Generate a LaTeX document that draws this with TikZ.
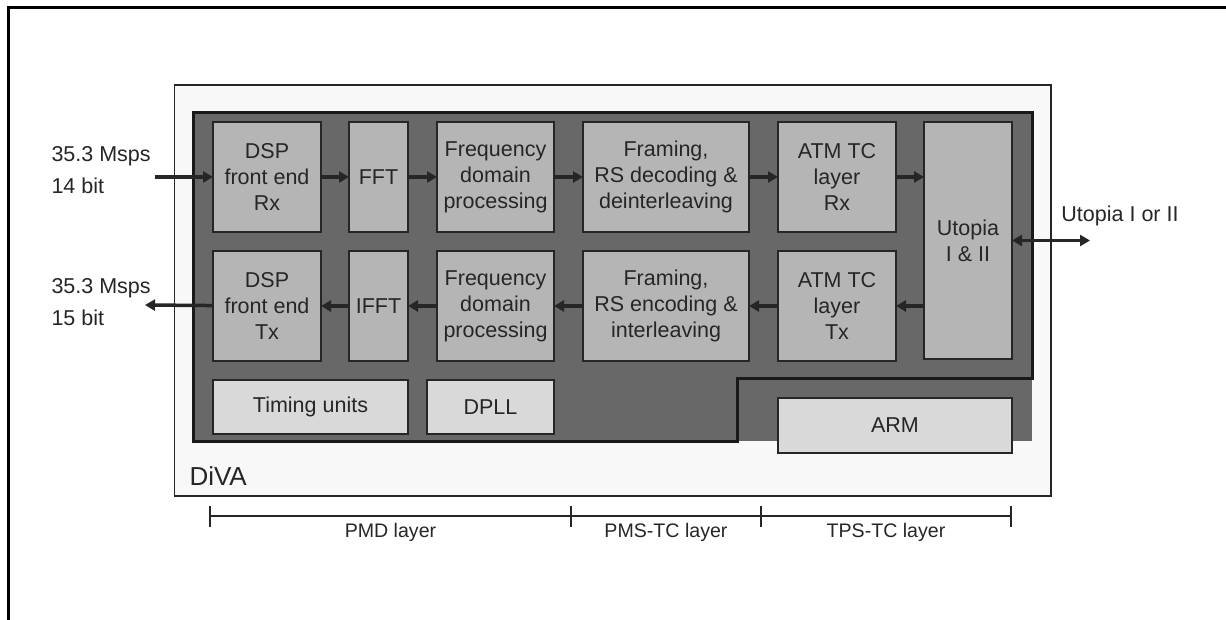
\documentclass[tikz,border=0pt]{standalone}
\usepackage{fontspec}
\setmainfont{Liberation Sans}
\usetikzlibrary{arrows.meta,positioning}
\definecolor{chipgray}{HTML}{686868}
\definecolor{boxgray}{HTML}{B5B5B5}
\definecolor{softgray}{HTML}{D9D9D9}
\definecolor{divagray}{HTML}{F8F8F8}
\definecolor{edge}{HTML}{262626}
\begin{document}
\begin{tikzpicture}[x=1pt,y=-1pt]
    % Styles
        \tikzstyle{block} = [rectangle, draw=edge, line width=1.5pt, fill=boxgray, text=edge, align=center, inner sep=0pt, outer sep=0pt, minimum height=110pt, font=\fontsize{21.5}{26}\selectfont]
        \tikzstyle{softblock} = [block, fill=softgray, minimum height=54pt]
        \tikzstyle{link} = [draw=edge, line width=3.5pt, -{Triangle[length=10pt,width=11pt]}]
        \tikzstyle{caption} = [text=edge, align=left, font=\fontsize{21.5}{32}\selectfont]
        \tikzstyle{bar} = [draw=edge, line width=2.2pt]
        \tikzstyle{barlabel} = [text=edge, anchor=base, yshift=-21pt, font=\fontsize{19.6}{24}\selectfont]
        \useasboundingbox (0,0) rectangle (1226,620);
    % frame and chip
        \draw [line width=2.5pt] (8.5,620) -- (8.5,7.5) -- (1226,7.5);
        \draw [fill=divagray, draw=edge, line width=1.5pt] (174.5,85) rectangle (1051,496);
        \fill [chipgray] (193,113) rectangle (1032,441);
        \draw [line width=3pt, draw=black!90] (193,441) |- (1032,113) |- (737,378) |- (193,441) -- cycle;
    % receive row
        \node [block, minimum width=108pt] (dspRx) at (267,177) {DSP\\front end\\Rx};
        \node [block, minimum width=59pt, right = 28pt of dspRx] (fft) {FFT};
        \node [block, minimum width=117pt, right = 29pt of fft] (freqRx) {Frequency\\domain\\processing};
        \node [block, minimum width=166pt, right = 29pt of freqRx] (frameRx) {Framing,\\RS decoding \&\\deinterleaving};
        \node [block, minimum width=118pt, right = 29pt of frameRx] (atmRx) {ATM TC\\layer\\Rx};
        \node [block, minimum width=88pt, minimum height=237pt, right = 28pt of atmRx.north east, anchor=north west] (utopia) {Utopia\\I \& II};
    % transmit row
        \node [block, minimum width=108pt, below = 19pt of dspRx] (dspTx) {DSP\\front end\\Tx};
        \node [block, minimum width=59pt, below = 19pt of fft] (ifft) {IFFT};
        \node [block, minimum width=117pt, below = 19pt of freqRx] (freqTx) {Frequency\\domain\\processing};
        \node [block, minimum width=166pt, below = 19pt of frameRx] (frameTx) {Framing,\\RS encoding \&\\interleaving};
        \node [block, minimum width=118pt, below = 19pt of atmRx] (atmTx) {ATM TC\\layer\\Tx};
    % support blocks
        \node [softblock, minimum width=195pt, below = 19pt of dspTx.south west, anchor=north west] (timing) {Timing units};
        \node [softblock, minimum width=127pt, right = 19pt of timing] (dpll) {DPLL};
        \node [softblock, minimum width=234pt, minimum height=55pt, below = 37pt of atmTx.south west, anchor=north west] (arm) {ARM};
        \node [text=edge, font=\fontsize{26}{30}\selectfont, anchor=base west] (diva) at (186,485) {DiVA};
    % outside labels
        \node [caption, anchor=west] (rxlabel) at (48,170) {35.3 Msps\\14 bit};
        \node [caption, anchor=west] (txlabel) at (48,302) {35.3 Msps\\15 bit};
        \node [caption] (utlabel) at (1120,216) {Utopia I or II};
        \coordinate (rxin) at (155,177);
        \coordinate (txout) at (145,305);
        \coordinate (uout) at (1090,240.5);
    % Draw edges
        \path [link] (rxin) -- (dspRx);
        \path [link] (dspRx) -- (fft);
        \path [link] (fft) -- (freqRx);
        \path [link] (freqRx) -- (frameRx);
        \path [link] (frameRx) -- (atmRx);
        \path [link] (atmRx.east) -- (atmRx.east -| utopia.west);
        \path [link] (atmTx.east -| utopia.west) -- (atmTx.east);
        \path [link] (atmTx) -- (frameTx);
        \path [link] (frameTx) -- (freqTx);
        \path [link] (freqTx) -- (ifft);
        \path [link] (ifft) -- (dspTx);
        \path [link] (dspTx) -- (txout);
        \path [link, {Triangle[length=10pt,width=11pt]}-{Triangle[length=10pt,width=11pt]}] (utopia) -- (uout);
    % layer scale
        \coordinate (s0) at (210,516);
        \coordinate (s1) at (571,516);
        \coordinate (s2) at (761,516);
        \coordinate (s3) at (1011,516);
        \draw [bar] (s0) -- (s3);
        \foreach \t in {s0,s1,s2,s3}
            \draw [bar] ([yshift=10pt]\t) -- ([yshift=-11pt]\t);
        \path (s0) -- node [barlabel] {PMD layer} (s1);
        \path (s1) -- node [barlabel] {PMS-TC layer} (s2);
        \path (s2) -- node [barlabel] {TPS-TC layer} (s3);
\end{tikzpicture}
\end{document}
